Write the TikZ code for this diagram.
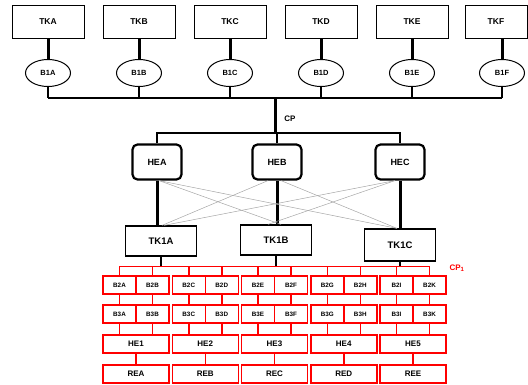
\documentclass[tikz,border=0pt]{standalone}
\usepackage{fontspec}
\setmainfont{Liberation Sans}
\usetikzlibrary{shapes.geometric}
\begin{document}
\begin{tikzpicture}[x=1pt,y=-1pt,
 tkbox/.style={draw,line width=1pt,minimum width=72pt,minimum height=33pt,inner sep=0pt,font=\bfseries\fontsize{8.5}{9}\selectfont},
 bone/.style={draw,ellipse,line width=1pt,minimum width=45pt,minimum height=27pt,inner sep=0pt,font=\bfseries\fontsize{7.5}{8}\selectfont},
 hebox/.style={draw,rounded corners=5pt,line width=2.2pt,minimum width=49pt,minimum height=35pt,inner sep=0pt,font=\bfseries\fontsize{9}{10}\selectfont},
 tkone/.style={draw,line width=1.2pt,minimum width=71pt,minimum height=30pt,inner sep=0pt,font=\bfseries\fontsize{9.5}{10}\selectfont},
 thicklink/.style={line width=3pt},
 thinlink/.style={line width=1.2pt},
 crossline/.style={gray!70,line width=0.5pt},
 rbox/.style={draw=red,line width=1.5pt,fill=white,minimum height=18pt,inner sep=0pt,font=\bfseries\fontsize{6.3}{7}\selectfont},
 rlink/.style={red,line width=1.5pt}]
\useasboundingbox (0,0) rectangle (528,385);
% top row
\foreach \n/\x in {A/48,B/139,C/230,D/321,E/412}{
  \node[tkbox] (TK\n) at (\x,22) {TK\n};
  \node[bone] (B1\n) at (\x,73) {B1\n};
  \draw[thicklink] (TK\n.south) -- (B1\n.north);
}
\node[tkbox,minimum width=62pt] (TKF) at (496,22) {TKF};
\node[bone] (B1F) at (502,73) {B1F};
\draw[thicklink] (TKF.south -| B1F.north) -- (B1F.north);
\coordinate (busL) at (48,98);
\coordinate (busR) at (502,98);
\foreach \n in {A,B,C,D,E,F}{
  \draw[thinlink] (B1\n.south) -- (B1\n.south |- busL);
}
\draw[thinlink] (busL) -- (busR);
% CP
\coordinate (cpTop) at (275,98);
\coordinate (cpBot) at (275,133);
\draw[thicklink] (cpTop) -- (cpBot);
\node[font=\bfseries\fontsize{8}{9}\selectfont] (CP) at (290,119) {CP};
\node[hebox] (HEA) at (157,162) {HEA};
\node[hebox] (HEB) at (277,162) {HEB};
\node[hebox] (HEC) at (400,162) {HEC};
\draw[line width=1.6pt] (HEA.north) -- (HEA.north |- cpBot) -- (HEC.north |- cpBot) -- (HEC.north);
\draw[line width=1.6pt] (HEB.north) -- (HEB.north |- cpBot);
% TK1
\node[tkone] (TK1A) at (161,241) {TK1A};
\node[tkone] (TK1B) at (276,240) {TK1B};
\node[tkone,minimum height=32pt] (TK1C) at (400,245) {TK1C};
\draw[thicklink] (HEA.south) -- (HEA.south |- TK1A.north);
\draw[thicklink] (HEB.south) -- (HEB.south |- TK1B.north);
\draw[thicklink] (HEC.south) -- (HEC.south |- TK1C.north);
% cross links
\draw[crossline] ([xshift=2pt]HEA.south) -- ([xshift=5pt]TK1B.north);
\draw[crossline] ([xshift=2pt]HEA.south) -- ([xshift=-3pt]TK1C.north);
\draw[crossline] ([xshift=-9pt]HEB.south) -- ([xshift=1pt]TK1A.north);
\draw[crossline] ([xshift=4pt]HEB.south) -- ([xshift=-3pt]TK1C.north);
\draw[crossline] ([xshift=-5pt]HEC.south) -- ([xshift=-8pt]TK1B.north);
\draw[crossline] ([xshift=-5pt]HEC.south) -- ([xshift=3pt]TK1A.north);
% red section
\foreach \i/\a/\b/\h/\r in {0/A/B/1/A,1/C/D/2/B,2/E/F/3/C,3/G/H/4/D,4/I/K/5/E}{
  \pgfmathsetmacro\L{103+69.25*\i}
  \node[rbox,minimum width=33pt] (B2\a) at ({\L+16.5},285) {B2\a};
  \node[rbox,minimum width=33pt] (B2\b) at ({\L+49.5},285) {B2\b};
  \node[rbox,minimum width=33pt] (B3\a) at ({\L+16.5},314) {B3\a};
  \node[rbox,minimum width=33pt] (B3\b) at ({\L+49.5},314) {B3\b};
  \node[rbox,minimum width=66pt,font=\bfseries\fontsize{8}{9}\selectfont] (HE\h) at ({\L+33},344) {HE\h};
  \node[rbox,minimum width=66pt,font=\bfseries\fontsize{8}{9}\selectfont] (RE\r) at ({\L+33},374) {RE\r};
  \draw[rlink] (B2\a.south) -- (B3\a.north);
  \draw[rlink] (B2\b.south) -- (B3\b.north);
  \draw[rlink] (B3\a.south) -- (B3\a.south |- HE\h.north);
  \draw[rlink] (B3\b.south) -- (B3\b.south |- HE\h.north);
  \draw[rlink] (HE\h.south) -- (RE\r.north);
}
\path (B2A.north) ++(0,-9) coordinate (rbusL);
\draw[rlink] (rbusL) -- (rbusL -| B2K.north);
\foreach \x in {A,B,C,D,E,F,G,H,I,K}{
  \draw[rlink] (B2\x.north) -- (B2\x.north |- rbusL);
}
\draw[line width=2pt] (TK1A.south) -- (TK1A.south |- rbusL);
\draw[line width=2pt] (TK1B.south) -- (TK1B.south |- rbusL);
\draw[line width=2pt] (TK1C.south) -- (TK1C.south |- rbusL);
\node[text=red,font=\bfseries\fontsize{8}{9}\selectfont] (CP1) at (457,268) {CP\textsubscript{1}};
\end{tikzpicture}
\end{document}
